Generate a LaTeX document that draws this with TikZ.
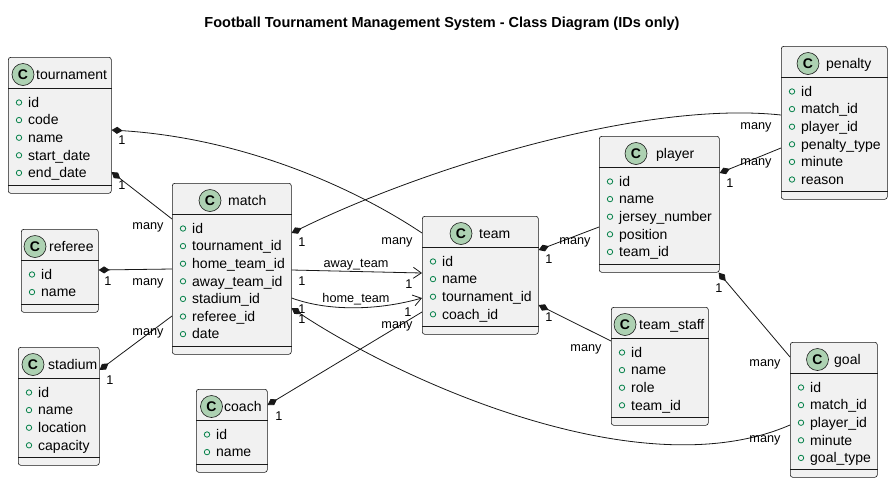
\documentclass[tikz,border=0pt]{standalone}
\usepackage{fontspec}
\setmainfont{Liberation Sans}
\usetikzlibrary{arrows.meta}

\definecolor{boxfill}{HTML}{F1F1F1}
\definecolor{boxedge}{HTML}{181818}
\definecolor{iconfill}{HTML}{ADD1B2}
\definecolor{attrgreen}{HTML}{038048}

\tikzset{
  classbox/.style={draw=boxedge, fill=boxfill, line width=0.6pt, rounded corners=2.5pt, anchor=north west, inner sep=0},
  boxline/.style={draw=boxedge, line width=0.6pt},
  classicon/.style={circle, draw=boxedge, fill=iconfill, line width=0.6pt, minimum size=22pt, inner sep=0, font=\fontsize{14}{16}\selectfont\bfseries},
  classname/.style={anchor=base west, inner sep=0, font=\fontsize{14}{16}\selectfont},
  attrtext/.style={anchor=base west, inner sep=0, font=\fontsize{14}{16}\selectfont},
  attrdot/.style={draw=attrgreen, line width=0.8pt},
  lbl/.style={anchor=base, inner sep=0, font=\fontsize{12.7}{14}\selectfont},
  comp/.style={draw=boxedge, line width=0.8pt, {Diamond[length=11pt,width=7pt]}-},
  nav/.style={draw=boxedge, line width=0.8pt, -{Straight Barb[length=8pt,width=11pt]}},
  title/.style={anchor=base, inner sep=0, font=\fontsize{14.5}{17}\selectfont\bfseries}
}

% #1 name, #2 x, #3 top, #4 width, #5 height, #6 icon, #7 title x, #8 title, #9 attributes
\newcommand{\umlclass}[9]{
  \node[classbox, minimum width=#4pt, minimum height=#5pt] (#1) at (#2,#3) {};
  \draw[boxline] ([yshift=-31.5pt]#1.north west) -- ([yshift=-31.5pt]#1.north east);
  \draw[boxline] ([yshift=8pt]#1.south west) -- ([yshift=8pt]#1.south east);
  \node[classicon] (#1-icon) at ([xshift=#6pt,yshift=-17.5pt]#1.north west) {C};
  \node[classname] (#1-name) at ([xshift=#7pt,yshift=-22pt]#1.north west) {#8};
  \foreach \attr [count=\i] in {#9} {
    \pgfmathsetmacro{\rowy}{45.5+(\i-1)*17.6}
    \draw[attrdot] ([xshift=11pt,yshift=-\rowy pt]#1.north west) circle (2.7pt);
    \node[attrtext] (#1-a\i) at ([xshift=20pt,yshift=-\rowy pt-4.7pt]#1.north west) {\attr};
  }
}

\begin{document}
\begin{tikzpicture}[x=1pt, y=-1pt]
\useasboundingbox[fill=white] (0,0) rectangle (893,483);

% Title
\node[title] (title) at (442,27.5) {Football Tournament Management System - Class Diagram (IDs only)};

% Classes
\umlclass{tournament}{8}{57}{103}{136}{15}{28}{tournament}{id,code,name,start\_date,end\_date}
\umlclass{match}{172}{183}{119}{171}{38}{56}{match}{id,tournament\_id,home\_team\_id,away\_team\_id,stadium\_id,referee\_id,date}
\umlclass{referee}{21}{229}{77}{83}{14}{28}{referee}{id,name}
\umlclass{stadium}{18}{347}{81}{118}{15}{30}{stadium}{id,name,location,capacity}
\umlclass{coach}{196}{389}{71}{83}{15.5}{28}{coach}{id,name}
\umlclass{team}{422}{216}{116}{118}{39}{57}{team}{id,name,tournament\_id,coach\_id}
\umlclass{player}{599}{136}{120}{136}{37}{57}{player}{id,name,jersey\_number,position,team\_id}
\umlclass{penalty}{781}{46}{106}{153}{27}{45}{penalty}{id,match\_id,player\_id,penalty\_type,minute,reason}
\umlclass{teamstaff}{611}{307}{97}{118}{14}{28}{team\_staff}{id,name,role,team\_id}
\umlclass{goal}{790}{342}{87}{135}{27.5}{44}{goal}{id,match\_id,player\_id,minute,goal\_type}

% Links of tournament, referee, stadium
\draw[comp] (tournament.east |- 0,130) .. controls (240,138) and (350,185) .. (team.west |- 0,233);
\node[lbl] (tt-one) at (122,144) {1};
\node[lbl] (tt-many) at (397,244) {many};
\draw[comp] (tournament.east |- 0,172) -- (match.west |- 0,219);
\node[lbl] (tm-one) at (122,189) {1};
\node[lbl] (tm-many) at (148,229) {many};
\draw[comp] (referee.east |- 0,270) -- (match.west |- 0,269);
\node[lbl] (rm-one) at (108,285) {1};
\node[lbl] (rm-many) at (148,285) {many};
\draw[comp] (stadium.east |- 0,370) -- (match.west |- 0,316);
\node[lbl] (sm-one) at (110,384) {1};
\node[lbl] (sm-many) at (148,335) {many};

% Links of match
\draw[comp] (match.east |- 0,233) .. controls (420,170) and (640,100) .. (penalty.west |- 0,115);
\node[lbl] (mp-one) at (302,246) {1};
\node[lbl] (mp-many) at (756,129) {many};
\draw[nav] (match.east |- 0,270) -- (team.west |- 0,273);
\node[lbl] (away) at (356,267) {away\_team};
\node[lbl] (away-one) at (302,285) {1};
\node[lbl] (away-two) at (409,288) {1};
\draw[nav] (match.east |- 0,298) .. controls (330,312) and (380,310) .. (team.west |- 0,298);
\node[lbl] (home) at (356,302) {home\_team};
\node[lbl] (home-one) at (302,313) {1};
\node[lbl] (home-two) at (408,316) {1};
\draw[comp] (match.east |- 0,308) .. controls (400,380) and (640,490) .. (goal.west |- 0,425);
\node[lbl] (mg-one) at (302,323) {1};
\node[lbl] (mg-many) at (765,442) {many};

% Links of coach, team, player
\draw[comp] (coach.east |- 0,405) -- (team.west |- 0,312);
\node[lbl] (ct-one) at (279,420) {1};
\node[lbl] (ct-many) at (397,328) {many};
\draw[comp] (team.east |- 0,250) -- (player.west |- 0,227);
\node[lbl] (tp-one) at (549,263) {1};
\node[lbl] (tp-many) at (575,244) {many};
\draw[comp] (team.east |- 0,305) -- (teamstaff.west |- 0,341);
\node[lbl] (ts-one) at (549,321) {1};
\node[lbl] (ts-many) at (586,351) {many};
\draw[comp] (player.east |- 0,173) -- (penalty.west |- 0,148);
\node[lbl] (pp-one) at (730,187) {1};
\node[lbl] (pp-many) at (756,165) {many};
\draw[comp] ([xshift=-1pt]player.south east) -- (goal.west |- 0,357);
\node[lbl] (pg-one) at (719,292) {1};
\node[lbl] (pg-many) at (765,366) {many};

\end{tikzpicture}
\end{document}
